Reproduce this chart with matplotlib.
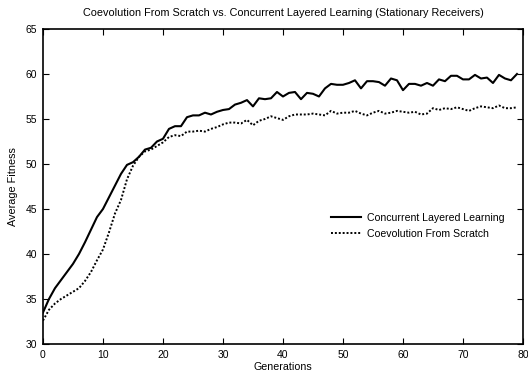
import numpy as np
import matplotlib.pyplot as plt
from matplotlib import font_manager

# make sure the regular Liberation Sans (not the Narrow one) is used
for f in font_manager.findSystemFonts():
    if f.endswith('LiberationSans-Regular.ttf'):
        font_manager.fontManager.addfont(f)
        plt.rcParams['font.family'] = [font_manager.FontProperties(fname=f).get_name(), 'DejaVu Sans']
        break

generations = np.arange(0, 80)

# Concurrent Layered Learning
layered = [33.5, 35.0, 36.2, 37.1, 38.0, 38.9, 40.0, 41.3, 42.7, 44.1,
           45.0, 46.3, 47.6, 48.9, 49.9, 50.2, 50.8, 51.6, 51.8, 52.5,
           52.8, 53.9, 54.2, 54.2, 55.2, 55.4, 55.4, 55.7, 55.5, 55.8,
           56.0, 56.1, 56.6, 56.8, 57.1, 56.4, 57.3, 57.2, 57.3, 58.0,
           57.5, 57.9, 58.0, 57.2, 57.9, 57.8, 57.5, 58.4, 58.9, 58.8,
           58.8, 59.0, 59.3, 58.4, 59.2, 59.2, 59.1, 58.7, 59.5, 59.3,
           58.2, 58.9, 58.9, 58.7, 59.0, 58.7, 59.4, 59.2, 59.8, 59.8,
           59.4, 59.4, 59.9, 59.5, 59.6, 59.0, 59.9, 59.5, 59.3, 60.0]

# Coevolution From Scratch
scratch = [32.6, 33.8, 34.5, 35.0, 35.4, 35.8, 36.2, 37.0, 38.0, 39.3,
           40.5, 42.4, 44.5, 46.0, 48.3, 49.8, 50.8, 51.4, 51.6, 52.0,
           52.4, 53.0, 53.2, 53.1, 53.6, 53.6, 53.7, 53.6, 53.9, 54.1,
           54.4, 54.6, 54.6, 54.5, 54.9, 54.3, 54.8, 55.0, 55.3, 55.1,
           54.9, 55.3, 55.5, 55.5, 55.5, 55.6, 55.5, 55.4, 55.9, 55.6,
           55.7, 55.7, 55.9, 55.6, 55.4, 55.7, 55.9, 55.6, 55.7, 55.9,
           55.8, 55.7, 55.8, 55.5, 55.6, 56.2, 56.0, 56.2, 56.1, 56.3,
           56.1, 55.9, 56.2, 56.4, 56.3, 56.2, 56.5, 56.2, 56.2, 56.3]

fig = plt.figure(figsize=(5.28, 3.75), dpi=100)
ax = fig.add_axes([0.0814, 0.0827, 0.9091, 0.84])

ax.plot(generations, layered, 'k-', lw=1.5, label='Concurrent Layered Learning')
ax.plot(generations, scratch, color='k', ls=(0, (1, 1)), lw=1.4, label='Coevolution From Scratch')

ax.set_xlim(0, 80)
ax.set_ylim(30, 65)
ax.set_xticks(range(0, 81, 10))
ax.set_yticks(range(30, 66, 5))
ax.tick_params(direction='in', top=True, right=True, labelsize=7.5, length=4, pad=4)
for s in ax.spines.values():
    s.set_linewidth(1.2)

ax.set_xlabel('Generations', fontsize=7.7, labelpad=2)
ax.set_ylabel('Average Fitness', fontsize=7.8, labelpad=6)
ax.set_title('Coevolution From Scratch vs. Concurrent Layered Learning (Stationary Receivers)',
             fontsize=7.8, pad=9)

ax.legend(loc='center left', bbox_to_anchor=(0.59, 0.375), frameon=False,
          fontsize=7.6, handlelength=2.8, handletextpad=0.6, labelspacing=0.55,
          borderpad=0)

fig.savefig('out.png', dpi=100)
